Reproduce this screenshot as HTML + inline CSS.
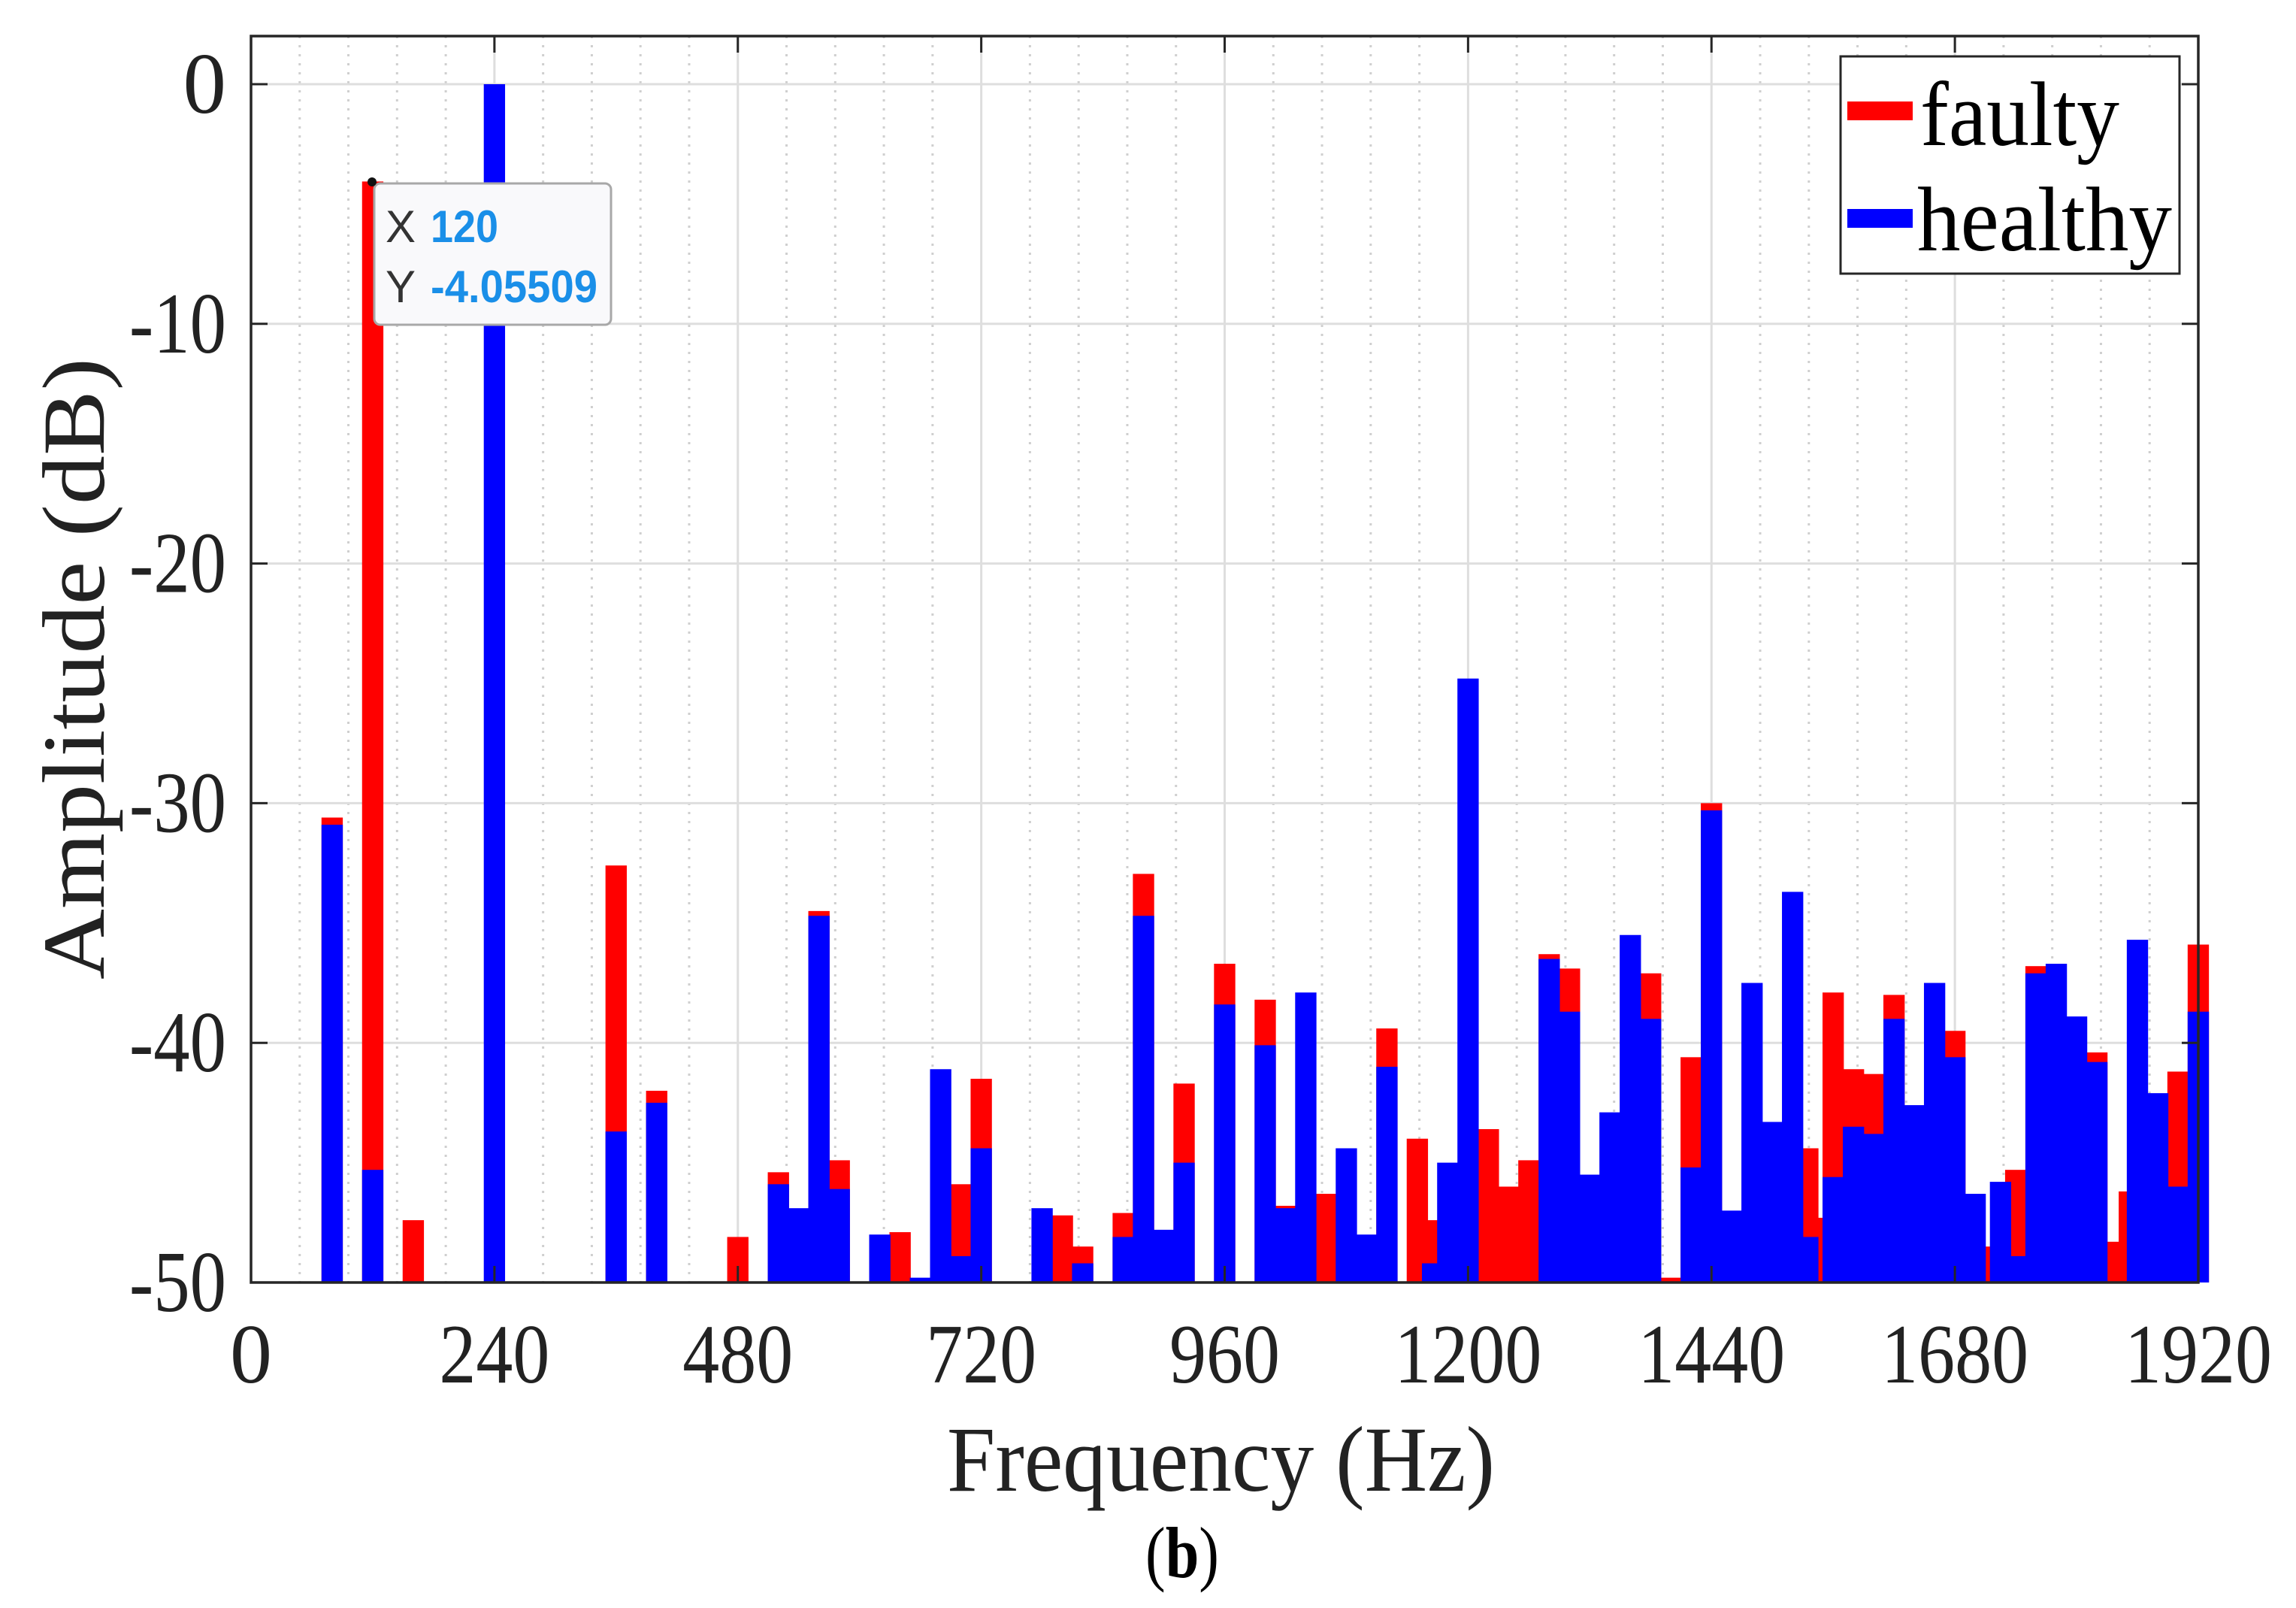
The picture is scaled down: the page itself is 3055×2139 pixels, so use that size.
<!DOCTYPE html>
<html><head><meta charset="utf-8"><style>
html,body{margin:0;padding:0;background:#fff;}
svg{display:block;}
text{font-family:"Liberation Serif",serif;}
</style></head><body>
<svg id="chart" width="3055" height="2139" viewBox="0 0 3055 2139" xmlns="http://www.w3.org/2000/svg">
<rect x="0" y="0" width="3055" height="2139" fill="#fff"/>
<g id="grid"></g>
<g id="bars-faulty"></g>
<g id="bars-healthy"></g>
<g id="axes"></g>
<text x="1260" y="1983" font-size="124" fill="#222" textLength="729" lengthAdjust="spacingAndGlyphs">Frequency (Hz)</text>
<text transform="translate(138,1303) rotate(-90)" x="0" y="0" font-size="118" fill="#222" textLength="827" lengthAdjust="spacingAndGlyphs">Amplitude (dB)</text>
<text x="1524" y="2098" font-size="96" fill="#000" textLength="98" lengthAdjust="spacingAndGlyphs">(<tspan font-weight="bold">b</tspan>)</text>
<g>
<rect x="2449" y="75" width="451" height="289" fill="#fff" stroke="#262626" stroke-width="3"/>
<rect x="2458" y="135" width="87" height="25" fill="#ff0000"/>
<text x="2555" y="193" font-size="122" fill="#000" textLength="265" lengthAdjust="spacingAndGlyphs">faulty</text>
<rect x="2458" y="278" width="87" height="25" fill="#0000ff"/>
<text x="2551" y="333" font-size="122" fill="#000" textLength="339" lengthAdjust="spacingAndGlyphs">healthy</text>
</g>
<g>
<rect x="498" y="244" width="315" height="188" rx="8" fill="#f9f9fb" stroke="#a8a8a8" stroke-width="3"/>
<circle cx="495" cy="242" r="6" fill="#111"/>
<text x="513" y="322" font-size="60" fill="#333" style="font-family:'Liberation Sans',sans-serif">X</text>
<text x="573" y="322" font-size="60" font-weight="bold" fill="#1a8fe8" style="font-family:'Liberation Sans',sans-serif" textLength="90" lengthAdjust="spacingAndGlyphs">120</text>
<text x="513" y="402" font-size="60" fill="#333" style="font-family:'Liberation Sans',sans-serif">Y</text>
<text x="573" y="402" font-size="60" font-weight="bold" fill="#1a8fe8" style="font-family:'Liberation Sans',sans-serif" textLength="222" lengthAdjust="spacingAndGlyphs">-4.05509</text>
</g>
</svg>
<script>
const freqs = [80,120,160,240,360,400,480,520,540,560,580,620,640,660,680,700,720,780,800,820,860,880,900,920,960,1000,1020,1040,1060,1080,1100,1120,1150,1165,1180,1200,1220,1240,1260,1280,1300,1320,1340,1360,1380,1400,1420,1440,1460,1480,1500,1520,1535,1548,1560,1580,1600,1620,1640,1660,1680,1700,1715,1725,1740,1760,1780,1800,1820,1838,1852,1860,1880,1900,1920];
const faulty = [-30.6,-4.06,-47.4,null,-32.6,-42.0,-48.1,-45.4,null,-34.5,-44.9,null,-47.9,null,null,-45.9,-41.5,null,-47.2,-48.5,-47.1,-32.95,null,-41.7,-36.7,-38.2,-46.8,null,-46.3,null,null,-39.4,-44.0,-47.4,null,null,-43.6,-46.0,-44.9,-36.3,-36.9,null,null,null,-37.1,-49.8,-40.6,-30.0,null,null,null,null,-44.4,-47.3,-37.9,-41.1,-41.3,-38.0,null,null,-39.5,null,-48.5,null,-45.3,-36.8,null,null,-40.4,-48.3,-46.2,null,null,-41.2,-35.9];
const healthy = [-30.9,-45.3,null,0,-43.7,-42.5,null,-45.9,-46.9,-34.7,-46.1,-48.0,null,-49.8,-41.1,-48.9,-44.4,-46.9,null,-49.2,-48.1,-34.7,-47.8,-45.0,-38.4,-40.1,-46.9,-37.9,null,-44.4,-48.0,-41.0,null,-49.2,-45.0,-24.8,null,null,null,-36.5,-38.7,-45.5,-42.9,-35.5,-39.0,null,-45.2,-30.3,-47.0,-37.5,-43.3,-33.7,-48.1,null,-45.6,-43.5,-43.8,-39.0,-42.6,-37.5,-40.6,-46.3,null,-45.8,-48.9,-37.1,-36.7,-38.9,-40.8,null,null,-35.7,-42.1,-46.0,-38.7];
const xTicks = [0,240,480,720,960,1200,1440,1680,1920];
const yTicks = [0,-10,-20,-30,-40,-50];

const NS = 'http://www.w3.org/2000/svg';
const L = 334, R = 2925, T = 48, B = 1706;
const X0 = 0, X1 = 1920, Y0 = 112, YB = 1706;
function xs(f){ return L + (f - X0) / (X1 - X0) * (R - L); }
function ys(v){ return Y0 + (0 - v) / 50 * (YB - Y0); }
const BW = 21;
function mk(tag, attrs, parent){
  const e = document.createElementNS(NS, tag);
  for (const k in attrs) e.setAttribute(k, attrs[k]);
  parent.appendChild(e);
  return e;
}
const grid = document.getElementById('grid');
for (let f = 48; f < 1920; f += 48) {
  if (f % 240 === 0) continue;
  const l = mk('line', {x1: xs(f), x2: xs(f), y1: T, y2: B, stroke: '#cfcfcf', 'stroke-width': 3, 'stroke-dasharray': '3 9'}, grid);
  
  
}
xTicks.forEach(f => {
  const l = mk('line', {x1: xs(f), x2: xs(f), y1: T, y2: B, stroke: '#dedede', 'stroke-width': 3}, grid);
  
  
});
yTicks.forEach(v => {
  const l = mk('line', {x1: L, x2: R, y1: ys(v), y2: ys(v), stroke: '#dedede', 'stroke-width': 3}, grid);
  
  
});
function drawBars(vals, color, gid, name){
  const g = document.getElementById(gid);
  freqs.forEach((f, i) => {
    const v = vals[i];
    if (v === null || v === undefined) return;
    const x = xs(f - BW/2), w = xs(f + BW/2) - x;
    const y = ys(v);
    const r = mk('rect', {x: x, y: y, width: w, height: ys(-50) - y, fill: color}, g);
    
    
  });
}
drawBars(faulty, '#ff0000', 'bars-faulty', 'faulty-bar');
drawBars(healthy, '#0000ff', 'bars-healthy', 'healthy-bar');

const ax = document.getElementById('axes');
const frame = mk('rect', {x: L, y: T, width: R - L, height: B - T, fill: 'none', stroke: '#262626', 'stroke-width': 3.5}, ax);


xTicks.forEach(f => {
  const x = xs(f);
  const t1 = mk('line', {x1: x, x2: x, y1: B, y2: B - 22, stroke: '#262626', 'stroke-width': 3}, ax);
  
  
  const t2 = mk('line', {x1: x, x2: x, y1: T, y2: T + 22, stroke: '#262626', 'stroke-width': 3}, ax);
  
  
  const s = String(f);
  const tx = mk('text', {x: x, y: 1839, 'font-size': 112, fill: '#222', 'text-anchor': 'middle'}, ax);
  if (s.length > 1) { tx.setAttribute('textLength', s.length * 49); tx.setAttribute('lengthAdjust', 'spacingAndGlyphs'); }
  tx.textContent = s;
  
  
});
yTicks.forEach(v => {
  const y = ys(v);
  const t1 = mk('line', {x1: L, x2: L + 22, y1: y, y2: y, stroke: '#262626', 'stroke-width': 3}, ax);
  
  
  const t2 = mk('line', {x1: R, x2: R - 22, y1: y, y2: y, stroke: '#262626', 'stroke-width': 3}, ax);
  
  
  const s = String(v);
  const tx = mk('text', {x: 301, y: y + 38, 'font-size': 115, fill: '#222', 'text-anchor': 'end'}, ax);
  if (s.length > 1) { tx.setAttribute('textLength', 129); tx.setAttribute('lengthAdjust', 'spacingAndGlyphs'); }
  tx.textContent = s;
  
  
});
</script>
</body></html>
